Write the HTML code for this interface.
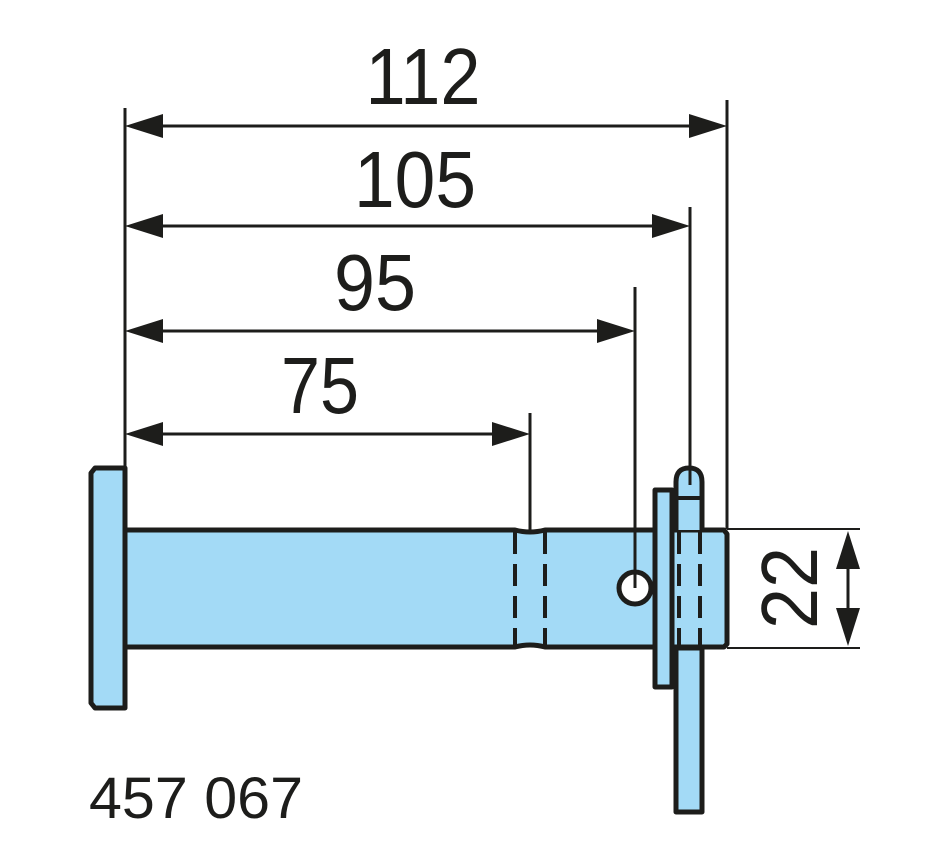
<!DOCTYPE html>
<html><head><style>body{margin:0;background:#fff}svg{display:block}</style></head><body>
<svg width="950" height="860" viewBox="0 0 950 860" xmlns="http://www.w3.org/2000/svg" font-family="Liberation Sans, sans-serif">
<g stroke="#1d1d1b" stroke-width="5" fill="#a3daf6" stroke-linejoin="round">
<path d="M95,468 L125,468 L125,708 L95,708 L91,703 L91,473 Z"/>
<path d="M125,530 L515,530 Q530,534 545,530 L724,530 L727,534 L727,644 L724,647 L545,647 Q530,643 515,647 L125,647 Z"/>
<path d="M676,530 L676,482 Q676,468 689,468 Q702,468 702,482 L702,530"/>
<rect x="676" y="648" width="26" height="164"/>
<rect x="655" y="490" width="17" height="197"/>
<circle cx="635" cy="588" r="16" fill="#fff"/>
</g>
<g stroke="#1d1d1b" stroke-width="4" stroke-dasharray="22,10">
<line x1="515" y1="532" x2="515" y2="645"/>
<line x1="545" y1="532" x2="545" y2="645"/>
<line x1="679" y1="532" x2="679" y2="645"/>
<line x1="700" y1="532" x2="700" y2="645"/>
</g>
<line x1="676" y1="498" x2="702" y2="498" stroke="#1d1d1b" stroke-width="4"/>
<g stroke="#1d1d1b" stroke-width="3" fill="none">
<line x1="125" y1="108" x2="125" y2="466"/>
<line x1="727" y1="100" x2="727" y2="529"/>
<line x1="690" y1="207" x2="690" y2="485"/>
<line x1="635" y1="287" x2="635" y2="588"/>
<line x1="530" y1="413" x2="530" y2="532"/>
<line x1="160" y1="126" x2="690" y2="126"/>
<line x1="160" y1="226" x2="655" y2="226"/>
<line x1="160" y1="331" x2="600" y2="331"/>
<line x1="160" y1="434" x2="495" y2="434"/>
<line x1="727" y1="529" x2="860" y2="529" stroke-width="2"/>
<line x1="727" y1="648" x2="860" y2="648" stroke-width="2"/>
<line x1="848" y1="565" x2="848" y2="612"/>
</g>
<g fill="#1d1d1b">
<polygon points="125,126 163,114 163,138"/><polygon points="727,126 689,114 689,138"/>
<polygon points="125,226 163,214 163,238"/><polygon points="690,226 652,214 652,238"/>
<polygon points="125,331 163,319 163,343"/><polygon points="635,331 597,319 597,343"/>
<polygon points="125,434 163,422 163,446"/><polygon points="530,434 492,422 492,446"/>
<polygon points="848,531 836,569 860,569"/><polygon points="848,646 836,608 860,608"/>
</g>
<g fill="#1d1d1b" font-size="80" text-anchor="middle">
<text x="423" y="104" textLength="115" lengthAdjust="spacingAndGlyphs">112</text>
<text x="415" y="207" textLength="122" lengthAdjust="spacingAndGlyphs">105</text>
<text x="375" y="310" textLength="82" lengthAdjust="spacingAndGlyphs">95</text>
<text x="320" y="413" textLength="78" lengthAdjust="spacingAndGlyphs">75</text>
<text transform="translate(817,588) rotate(-90)" x="0" y="0" textLength="82" lengthAdjust="spacingAndGlyphs">22</text>
</g>
<text x="89" y="818" font-size="58" fill="#1d1d1b" textLength="214" lengthAdjust="spacingAndGlyphs">457 067</text>
</svg>
</body></html>
